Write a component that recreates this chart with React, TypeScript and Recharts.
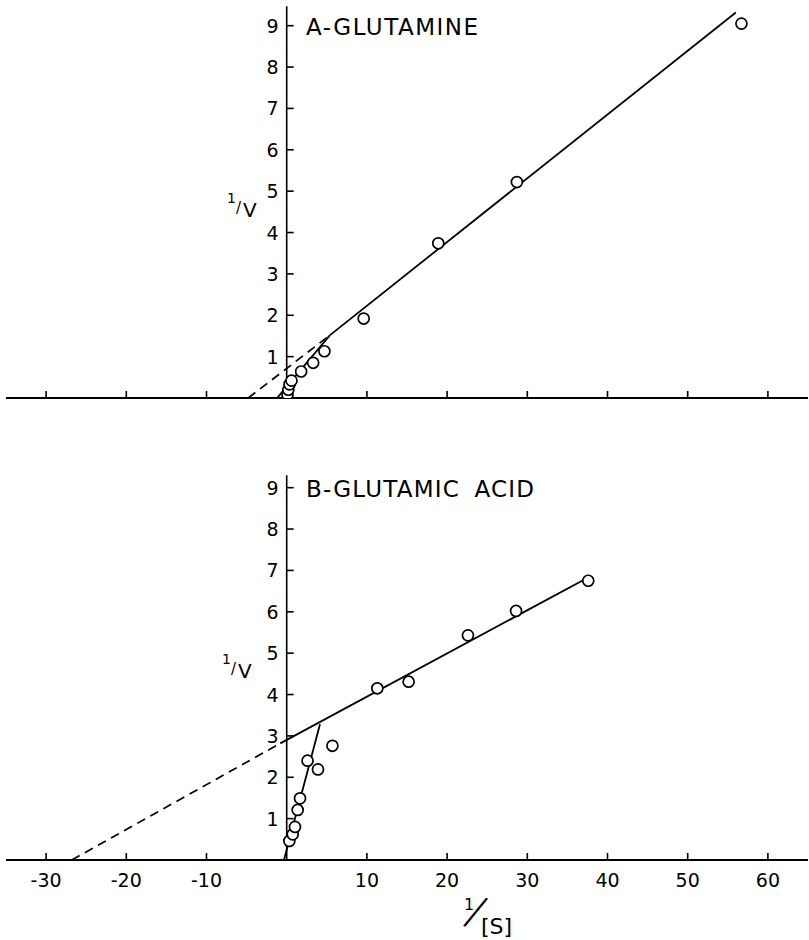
import { ComposedChart, Scatter, Line, XAxis, YAxis } from "recharts";

// shared x axis (1/[S])
const xTicks = [-30, -20, -10, 10, 20, 30, 40, 50, 60];
const yTicks = [1, 2, 3, 4, 5, 6, 7, 8, 9];

// A - glutamine, observed points
const glnX = [0.1, 0.2, 0.35, 0.6, 1.8, 3.3, 4.7, 9.6, 18.9, 28.7, 56.7];
const glnY = [0.08, 0.2, 0.33, 0.42, 0.64, 0.85, 1.13, 1.92, 3.74, 5.22, 9.05];
// A - fitted lines
const glnUpperX = [5.4, 56.0];
const glnUpperY = [1.52, 9.32];
const glnLowerX = [-1.2, 5.4];
const glnLowerY = [0, 1.52];
const glnExtrapX = [-4.8, 5.4];
const glnExtrapY = [0, 1.52];

// B - glutamic acid, observed points
const gluX = [0.33, 0.75, 1.03, 1.37, 1.66, 2.6, 3.9, 5.7, 11.3, 15.2, 22.6, 28.6, 37.6];
const gluY = [0.46, 0.62, 0.8, 1.21, 1.49, 2.4, 2.19, 2.76, 4.15, 4.31, 5.43, 6.02, 6.75];
// B - fitted lines
const gluUpperX = [-0.8, 37.3];
const gluUpperY = [2.82, 6.8];
const gluSteepX = [-0.34, 4.15];
const gluSteepY = [0, 3.28];
const gluExtrapX = [-26.8, -0.8];
const gluExtrapY = [0, 2.82];

const FONT = "'DejaVu Sans', sans-serif";
const X_DOMAIN: [number, number] = [-35, 65];
const Y_DOMAIN: [number, number] = [0, 9.5];

const zip = (xs: number[], ys: number[]) => xs.map((x, i) => ({ x, y: ys[i] }));

function OpenCircle(props: any) {
  const { cx, cy } = props;
  return <circle cx={cx} cy={cy} r={5.5} fill="#fff" stroke="#000" strokeWidth={1.7} />;
}

function YTickMark(props: any) {
  const { cx, cy, payload } = props;
  return (
    <g>
      <line x1={cx} y1={cy} x2={cx + 7} y2={cy} stroke="#000" strokeWidth={1.6} />
      <text
        x={cx - 8}
        y={cy}
        textAnchor="end"
        dominantBaseline="central"
        fontSize={19}
        fontFamily={FONT}
        fill="#000"
      >
        {payload.label}
      </text>
    </g>
  );
}

// x ticks point up from the axis, labels (bottom panel only) sit below it
function XTick(props: any) {
  const { x, y, payload, showLabel } = props;
  return (
    <g>
      <line x1={x} y1={y} x2={x} y2={y - 7} stroke="#000" strokeWidth={1.6} />
      {showLabel && (
        <text x={x} y={y + 27} textAnchor="middle" fontSize={19} fontFamily={FONT} fill="#000">
          {payload.value}
        </text>
      )}
    </g>
  );
}

interface PanelProps {
  height: number;
  margin: { top: number; right: number; bottom: number; left: number };
  axisTop: number;
  points: { x: number; y: number }[];
  solids: { x: number; y: number }[][];
  dashed: { x: number; y: number }[];
  showLabels: boolean;
}

function Panel({ height, margin, axisTop, points, solids, dashed, showLabels }: PanelProps) {
  const yTickData = yTicks.map((v) => ({ x: 0, y: v, label: String(v) }));
  const yAxisLine = [
    { x: 0, y: 0 },
    { x: 0, y: axisTop },
  ];
  return (
    <ComposedChart width={809} height={height} margin={margin}>
      <XAxis
        type="number"
        dataKey="x"
        domain={X_DOMAIN}
        ticks={xTicks}
        interval={0}
        allowDataOverflow
        tickSize={0}
        tickMargin={0}
        tickLine={false}
        tick={(p: any) => <XTick {...p} showLabel={showLabels} />}
        axisLine={{ stroke: "#000", strokeWidth: 1.8 }}
      />
      <YAxis type="number" dataKey="y" domain={Y_DOMAIN} hide allowDataOverflow />
      <Line
        data={yAxisLine}
        dataKey="y"
        type="linear"
        stroke="#000"
        strokeWidth={1.6}
        dot={false}
        activeDot={false}
        isAnimationActive={false}
      />
      <Line
        data={dashed}
        dataKey="y"
        type="linear"
        stroke="#000"
        strokeWidth={1.7}
        strokeDasharray="9 6"
        dot={false}
        activeDot={false}
        isAnimationActive={false}
      />
      {solids.map((s, i) => (
        <Line
          key={i}
          data={s}
          dataKey="y"
          type="linear"
          stroke="#000"
          strokeWidth={1.8}
          dot={false}
          activeDot={false}
          isAnimationActive={false}
        />
      ))}
      <Scatter data={yTickData} dataKey="y" shape={YTickMark} isAnimationActive={false} />
      <Scatter data={points} dataKey="y" shape={OpenCircle} isAnimationActive={false} />
    </ComposedChart>
  );
}

export default function App() {
  const txt = { fontFamily: FONT, fill: "#000" } as const;
  return (
    <div style={{ position: "absolute", left: 0, top: 0, width: 809, height: 940, background: "#fff" }}>
      <div style={{ position: "absolute", left: 0, top: 0 }}>
        <Panel
          height={440}
          margin={{ top: 5, right: 1, bottom: 12, left: 6 }}
          axisTop={9.47}
          points={zip(glnX, glnY)}
          solids={[zip(glnUpperX, glnUpperY), zip(glnLowerX, glnLowerY)]}
          dashed={zip(glnExtrapX, glnExtrapY)}
          showLabels={false}
        />
      </div>
      <div style={{ position: "absolute", left: 0, top: 440 }}>
        <Panel
          height={500}
          margin={{ top: 27, right: 1, bottom: 50, left: 6 }}
          axisTop={9.3}
          points={zip(gluX, gluY)}
          solids={[zip(gluUpperX, gluUpperY), zip(gluSteepX, gluSteepY)]}
          dashed={zip(gluExtrapX, gluExtrapY)}
          showLabels={true}
        />
      </div>
      <svg
        width={809}
        height={940}
        style={{ position: "absolute", left: 0, top: 0, pointerEvents: "none" }}
      >
        <text x={306} y={35} fontSize={23} letterSpacing={1.5} {...txt}>
          A-GLUTAMINE
        </text>
        <text x={306} y={497} fontSize={23} letterSpacing={1.2} wordSpacing={6} {...txt}>
          B-GLUTAMIC ACID
        </text>
        {/* 1/V labels */}
        <text x={227} y={203} {...txt}>
          <tspan fontSize={14}>1</tspan>
          <tspan fontSize={15} dx={0} dy={10}>/</tspan>
          <tspan fontSize={20} dx={2} dy={4}>V</tspan>
        </text>
        <text x={222} y={664} {...txt}>
          <tspan fontSize={14}>1</tspan>
          <tspan fontSize={15} dx={0} dy={10}>/</tspan>
          <tspan fontSize={20} dx={2} dy={4}>V</tspan>
        </text>
        {/* 1/[S] label */}
        <text x={464} y={910} {...txt}>
          <tspan fontSize={16}>1</tspan>
          <tspan fontSize={42} fontWeight={200} x={464} y={922} rotate="22">
            /
          </tspan>
          <tspan fontSize={22} x={481} y={934}>
            [S]
          </tspan>
        </text>
      </svg>
    </div>
  );
}
